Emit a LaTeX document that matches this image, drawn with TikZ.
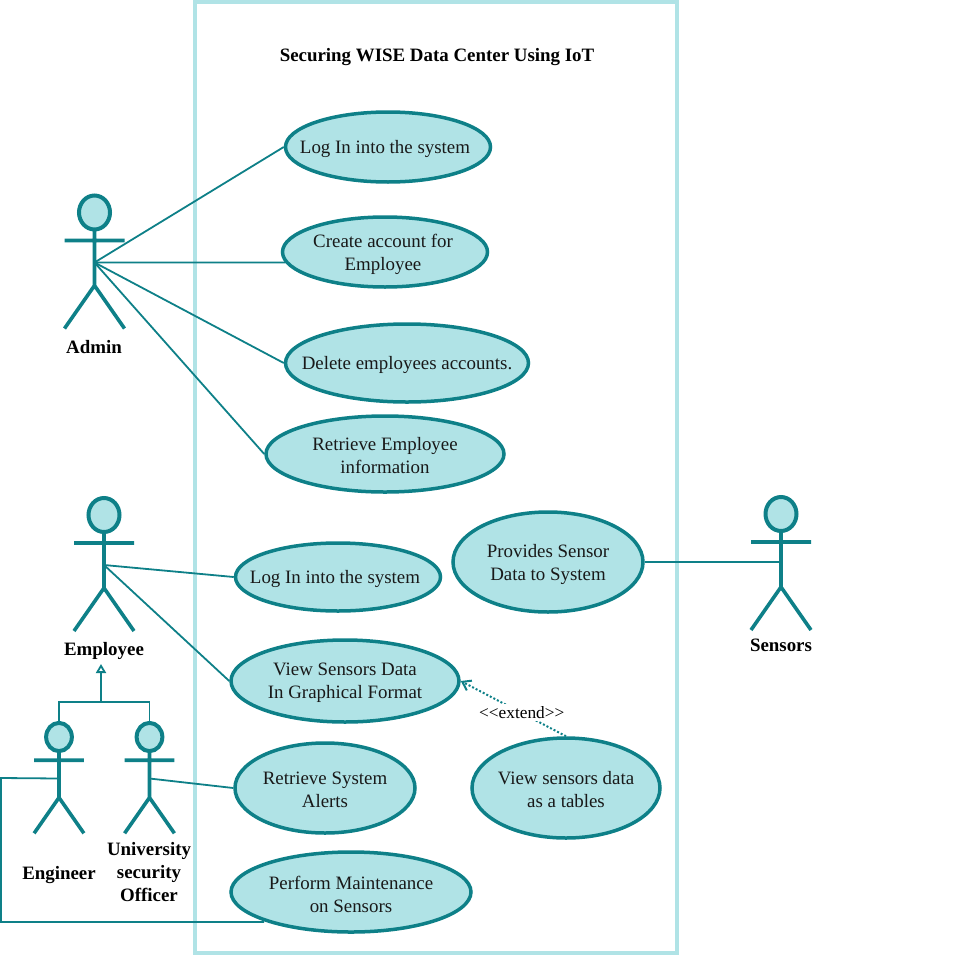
\documentclass[tikz,border=0pt]{standalone}
\usepackage{fontspec}
\setmainfont{Liberation Serif}
\usetikzlibrary{arrows.meta, shapes.geometric}
\definecolor{tealline}{HTML}{0E8088}
\definecolor{tealfill}{HTML}{B0E3E6}

\begin{document}
\begin{tikzpicture}[
         x=1pt, y=-1pt,
         usecase/.style={ellipse, draw=tealline, fill=tealfill, line width=3.5pt, inner sep=0pt},
         every label/.style={align=center, text=black!90, inner sep=0pt, yshift=-2pt, font=\fontsize{18.9}{23}\selectfont},
         link/.style={draw=tealline, line width=1.8pt},
         actorlabel/.style={font=\fontsize{18.9}{23}\selectfont\bfseries, align=center},
         actor/.pic={
            \draw[tealline, line width=4pt, fill=tealfill] (0,0) ellipse [x radius=15.5, y radius=17];
            \draw[tealline, line width=3.6pt, line cap=butt] (0,17.5) -- (0,73) (-30,28) -- (30,28) (-30,116) -- (0,73) -- (30,116);
            \coordinate (-top) at (0,-17.5);
            \coordinate (-hip) at (0,50);
         }
      ]
         \useasboundingbox (0,0) rectangle (972,956);

         % System boundary
         \node[draw=tealfill, line width=4pt, inner sep=0pt, minimum width=482pt, minimum height=951pt] (system) at (436,477.5) {};
         \node[font=\fontsize{18.9}{23}\selectfont\bfseries] (title) at (437,57) {Securing WISE Data Center Using IoT};

         % Nodes for use cases
         \node[usecase, minimum width=205pt, minimum height=70pt, label={[xshift=-3pt]center:{Log In into the system}}] (loginadmin) at (388,147) {};
         \node[usecase, minimum width=205pt, minimum height=70pt, label={[xshift=-2pt]center:{Create account for\\Employee}}] (createacc) at (385,252) {};
         \node[usecase, minimum width=243pt, minimum height=78pt, label=center:{Delete employees accounts.}] (deleteacc) at (407,363) {};
         \node[usecase, minimum width=238pt, minimum height=76pt, label=center:{Retrieve Employee\\information}] (retrieveinfo) at (385,454) {};
         \node[usecase, minimum width=205pt, minimum height=68pt, label={[xshift=-3pt]center:{Log In into the system}}] (loginemp) at (338,577) {};
         \node[usecase, minimum width=190pt, minimum height=100pt, label=center:{Provides Sensor\\Data to System}] (provides) at (548,562) {};
         \node[usecase, minimum width=228pt, minimum height=82pt, label=center:{View Sensors Data\\In Graphical Format}] (viewgraph) at (345,681) {};
         \node[usecase, minimum width=180pt, minimum height=90pt, label=center:{Retrieve System\\Alerts}] (alerts) at (325,788) {};
         \node[usecase, minimum width=188pt, minimum height=100pt, label=center:{View sensors data\\as a tables}] (viewtable) at (566,788) {};
         \node[usecase, minimum width=240pt, minimum height=80pt, label=center:{Perform Maintenance\\on Sensors}] (perform) at (351,892) {};

         % Actors
         \pic (admin) at (94.5,212.5) {actor};
         \pic (employee) at (104,515) {actor};
         \pic (sensors) at (781,514) {actor};
         \pic[scale=0.83] (engineer) at (59,737) {actor};
         \pic[scale=0.83] (officer) at (149.5,737) {actor};

         \node[actorlabel] (adminlabel) at (94,347) {Admin};
         \node[actorlabel] (employeelabel) at (104,651) {Employee};
         \node[actorlabel] (sensorslabel) at (781,645) {Sensors};
         \node[actorlabel] (engineerlabel) at (59,875) {Engineer};
         \node[actorlabel] (officerlabel) at (149,872) {University\\security\\Officer};

         % Associations
         \draw[link] (admin-hip) -- (loginadmin.west);
         \draw[link] (admin-hip) -- (createacc.186);
         \draw[link] (admin-hip) -- (deleteacc.west);
         \draw[link] (admin-hip) -- (retrieveinfo.west);
         \draw[link] (employee-hip) -- (loginemp.west);
         \draw[link] (employee-hip) -- (viewgraph.west);
         \draw[link] (provides.east -| sensors-hip) -- (provides.east);
         \draw[link] (officer-hip) -- (alerts.west);

         % Engineer goes round the outside
         \coordinate (engleft) at (1,778);
         \coordinate (engbottom) at (1,922);
         \coordinate (performend) at (264,922);
         \draw[link] (engineer-hip) -- (engleft) -- (engbottom) -- (performend);

         % Generalization
         \coordinate (genjoin) at (101,702);
         \coordinate (gentip) at (101,664);
         \draw[link] (engineer-top) |- (genjoin) -| (officer-top);
         \draw[link, -{Triangle[open, length=9pt, width=10pt, fill=white]}] (genjoin) -- (gentip);

         % Extend
         \draw[link, line width=2pt, dotted, -{Straight Barb[length=8pt, width=11pt]}] (viewtable.north) -- node[pos=0.42, yshift=0.5pt, fill=white, inner sep=2pt, text=black, font=\fontsize{17.3}{20}\selectfont] (extendlabel) {<{}<extend>{}>} (viewgraph.east);
      \end{tikzpicture}
\end{document}
